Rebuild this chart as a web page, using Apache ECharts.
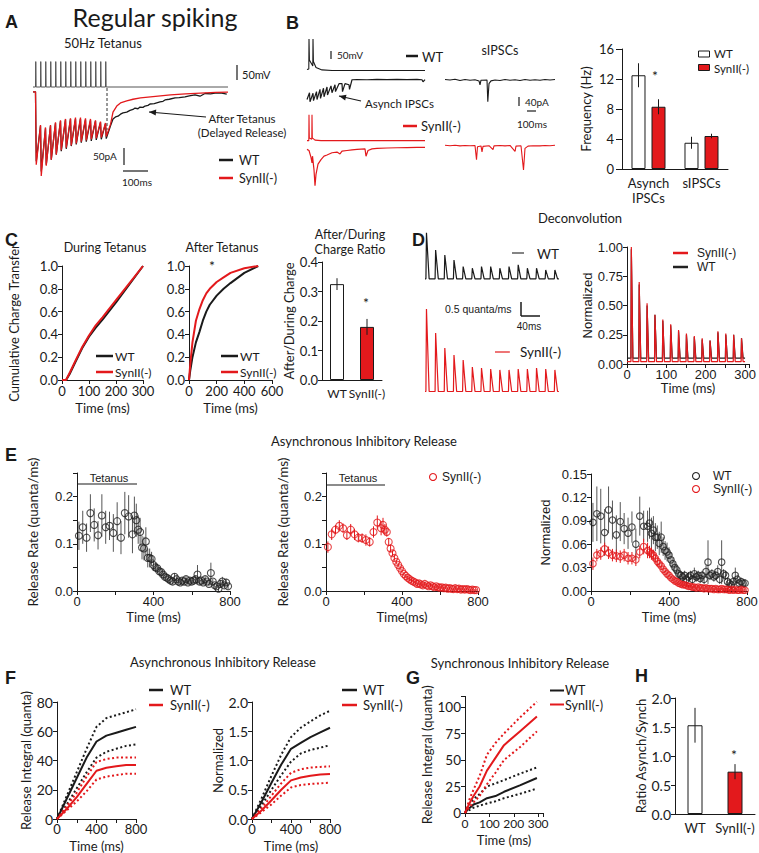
<!DOCTYPE html>
<html>
<head>
<meta charset="utf-8">
<script src="https://cdn.jsdelivr.net/npm/echarts@6/dist/echarts.min.js"></script>
<style>
  html, body { margin: 0; padding: 0; background: #fff; }
  #chart { width: 759px; height: 853px; }
</style>
</head>
<body>
<div id="chart"></div>
<script>
const RED = "#e3191c";
const INK = "#1a1a1a";
const CAL = 'Lato, "Open Sans", sans-serif';
const ARI = '"Liberation Sans", Arial, sans-serif';

// ---------- A: 50 Hz tetanus, example traces ----------
const tetStimMs = [0, 20, 40, 60, 80, 100, 120, 140, 160, 180, 200, 220, 240, 260, 280];
const aRestMv = -65;
const aSpikeMv = 20;
const aWtTroughPa = [-205, -235, -215, -200, -185, -175, -168, -160, -155, -150, -147, -145, -142, -140, -138];
const aWtPrePa = [-100, -108, -100, -92, -86, -82, -80, -80, -80, -82, -84, -86, -90, -94, -100];
const aKoTroughPa = [-215, -248, -218, -200, -185, -172, -165, -158, -152, -147, -143, -140, -137, -135, -132];
const aKoPrePa = [-98, -105, -98, -90, -84, -80, -78, -76, -76, -78, -80, -84, -88, -92, -96];
const aWtAfterMs = [310, 320, 330, 340, 350, 365, 378, 390, 398, 410, 418, 430, 438, 450, 458, 475, 498, 510, 518, 535, 558, 575, 598, 615, 638, 658, 678, 700, 718, 740, 765];
const aWtAfterPa = [-80, -74, -72, -66, -62, -60, -55, -52, -48, -50, -45, -46, -42, -40, -36, -35, -30, -28, -24, -22, -18, -17, -15, -12, -9, -13, -5, -6, -4, -3, -7];
const aKoAfterMs = [310, 325, 340, 365, 390, 420, 460, 500, 540, 600, 660, 720, 770];
const aKoAfterPa = [-60, -42, -33, -27, -22, -18, -15, -12, -9, -6, -4, -2, -1];

// ---------- B: example traces [ms, value] ----------
const bWtVm = [[0, -62], [18, -60], [20, 40], [24, -30], [58, -50], [60, 40], [64, -35], [90, -55], [150, -63], [250, -65], [1180, -65]];
const bWtIpsc = [[0, -90], [25, -60], [30, -100], [60, -62], [65, -95], [95, -55], [100, -90], [130, -45], [135, -85], [165, -40], [170, -78], [200, -35], [205, -70], [240, -30], [250, -60], [280, -25], [285, -55], [320, -20], [350, -20], [355, -55], [380, -20], [420, -25], [425, -45], [450, -3], [500, -2], [600, -3], [700, -1], [800, -2], [900, -1], [1000, -2], [1100, -1], [1150, -3], [1160, -12], [1180, -2]];
const bWtSpont = [[0, -2], [50, -4], [100, -1], [150, -6], [200, -2], [250, -5], [300, -3], [340, -8], [350, -25], [360, -5], [420, -4], [428, -100], [440, -20], [460, -8], [500, -4], [550, -6], [600, -2], [650, -5], [700, -3], [750, -6], [800, -2], [850, -5], [900, -3], [950, -5], [1000, -2], [1050, -4], [1100, -2]];
const bKoVm = [[0, -65], [18, -65], [20, 30], [23, -55], [48, -60], [50, 30], [53, -55], [80, -63], [140, -65], [1180, -65]];
const bKoIpsc = [[0, -10], [20, -15], [40, -45], [50, -70], [55, -40], [70, -100], [80, -170], [90, -120], [110, -75], [140, -55], [170, -40], [200, -35], [250, -25], [300, -22], [330, -30], [350, -18], [400, -15], [450, -12], [500, -10], [580, -8], [590, -40], [610, -15], [650, -8], [700, -6], [800, -4], [900, -3], [1000, -2], [1100, -1], [1180, -1]];
const bKoSpont = [[0, -1], [50, -3], [100, -1], [150, -4], [200, -2], [250, -3], [300, -2], [315, -65], [325, -8], [360, -4], [370, -30], [380, -6], [440, -3], [480, -20], [490, -4], [550, -2], [600, -4], [650, -2], [700, -28], [710, -5], [760, -3], [785, -110], [800, -15], [830, -5], [880, -3], [950, -4], [1000, -2], [1050, -3], [1100, -1]];

// B: frequency bars
const freqCats = ["Asynch\nIPSCs", "sIPSCs"];
const freqWt = [12.5, 3.5];
const freqWtErr = [1.6, 0.8];
const freqKo = [8.3, 4.4];
const freqKoErr = [1.0, 0.3];

// ---------- C ----------
const cDuringMs = [0, 15, 30, 50, 75, 100, 125, 150, 200, 250, 300];
const cDuringWt = [0, 0, 0.06, 0.16, 0.28, 0.38, 0.46, 0.53, 0.68, 0.84, 1.0];
const cDuringKo = [0, 0, 0.07, 0.17, 0.29, 0.39, 0.48, 0.55, 0.70, 0.85, 1.0];
const cAfterMs = [0, 10, 25, 50, 75, 100, 125, 150, 200, 250, 300, 400, 500];
const cAfterWt = [0, 0.09, 0.20, 0.33, 0.42, 0.52, 0.60, 0.66, 0.74, 0.80, 0.85, 0.94, 1.0];
const cAfterKo = [0, 0.15, 0.33, 0.52, 0.62, 0.70, 0.76, 0.80, 0.86, 0.90, 0.94, 0.98, 1.0];
const ratioCats = ["WT", "SynII(-)"];
const ratioVals = [0.325, 0.18];
const ratioErr = [0.02, 0.027];

// ---------- D: deconvolution ----------
const dPulseMs = [2, 22, 42, 62, 82, 102, 122, 142, 162, 182, 202, 222, 242, 262, 282];
const dWtPeak = [1.97, 1.25, 1.04, 0.83, 0.56, 0.49, 0.56, 0.56, 0.49, 0.56, 0.63, 0.49, 0.49, 0.42, 0.42];
const dKoPeak = [3.46, 2.46, 1.83, 1.54, 1.33, 1.04, 1.0, 0.96, 0.92, 0.92, 0.96, 0.96, 1.0, 0.96, 0.92];
const dWtBase = 0.05;
const dKoBase = 0.02;
const dNormMs = [10, 30, 50, 70, 90, 110, 130, 150, 170, 190, 210, 230, 250, 270, 290];
const dNormKo = [1.0, 0.70, 0.52, 0.42, 0.38, 0.34, 0.29, 0.26, 0.24, 0.22, 0.20, 0.28, 0.26, 0.25, 0.22];
const dNormWt = [0.98, 0.68, 0.50, 0.42, 0.37, 0.33, 0.28, 0.25, 0.23, 0.21, 0.20, 0.27, 0.25, 0.25, 0.22];
const dNormWtBase = 0.05;
const dNormKoBase = 0.02;

// ---------- E: asynchronous release rate ----------
const eTimesMs = [10, 30, 50, 70, 90, 110, 130, 150, 170, 190, 210, 230, 250, 270, 290,
  300, 310, 320, 330, 340, 350, 360, 370, 380, 390, 400, 410, 420, 430, 440, 450, 460, 470, 480, 490,
  500, 510, 520, 530, 540, 550, 560, 570, 580, 590, 600, 610, 620, 630, 640, 650, 660, 670, 680, 690,
  700, 710, 720, 730, 740, 750, 760, 770, 780, 790];
const eWt = [0.117, 0.135, 0.113, 0.165, 0.140, 0.118, 0.160, 0.135, 0.138, 0.123, 0.148, 0.113, 0.165, 0.158, 0.120,
  0.160, 0.150, 0.130, 0.125, 0.092, 0.090, 0.105, 0.070, 0.070, 0.068,
  0.055, 0.050, 0.048, 0.042, 0.040, 0.035, 0.030, 0.028, 0.025, 0.022,
  0.020, 0.030, 0.025, 0.020, 0.018, 0.022, 0.020, 0.025, 0.018, 0.022,
  0.020, 0.022, 0.025, 0.035, 0.020, 0.022, 0.018, 0.025, 0.020, 0.015,
  0.038, 0.020, 0.012, 0.010, 0.005, 0.015, 0.020, 0.012, 0.018, 0.010];
const eWtErr = [0.030, 0.035, 0.030, 0.040, 0.035, 0.030, 0.045, 0.035, 0.030, 0.040, 0.040, 0.035, 0.045, 0.045, 0.040,
  0.040, 0.035, 0.030, 0.030, 0.025, 0.025, 0.030, 0.020, 0.020, 0.015,
  0.012, 0.010, 0.010, 0.008, 0.008, 0.008, 0.006, 0.006, 0.006, 0.006,
  0.006, 0.008, 0.006, 0.006, 0.005, 0.006, 0.005, 0.006, 0.005, 0.006,
  0.005, 0.006, 0.006, 0.020, 0.006, 0.006, 0.005, 0.006, 0.005, 0.005,
  0.022, 0.006, 0.005, 0.005, 0.005, 0.008, 0.010, 0.006, 0.008, 0.006];
const eKo = [0.093, 0.120, 0.130, 0.138, 0.133, 0.118, 0.130, 0.120, 0.113, 0.112, 0.108, 0.104, 0.125, 0.145, 0.133,
  0.140, 0.130, 0.125, 0.104, 0.090, 0.080, 0.070, 0.062, 0.055, 0.048,
  0.042, 0.036, 0.032, 0.028, 0.025, 0.022, 0.020, 0.018, 0.015, 0.016,
  0.014, 0.012, 0.015, 0.012, 0.010, 0.012, 0.010, 0.008, 0.010, 0.008,
  0.007, 0.008, 0.006, 0.007, 0.005, 0.006, 0.005, 0.004, 0.006, 0.004,
  0.005, 0.003, 0.004, 0.003, 0.004, 0.003, 0.002, 0.003, 0.002, 0.002];
const eKoErr = [0.012, 0.012, 0.010, 0.012, 0.010, 0.010, 0.012, 0.012, 0.010, 0.010, 0.012, 0.010, 0.012, 0.015, 0.015,
  0.015, 0.012, 0.010, 0.008, 0.008, 0.006, 0.006, 0.005, 0.005, 0.005,
  0.005, 0.004, 0.004, 0.004, 0.004, 0.004, 0.004, 0.004, 0.003, 0.004,
  0.003, 0.003, 0.004, 0.003, 0.003, 0.003, 0.003, 0.003, 0.003, 0.003,
  0.003, 0.003, 0.003, 0.003, 0.002, 0.003, 0.002, 0.002, 0.003, 0.002,
  0.002, 0.002, 0.002, 0.002, 0.002, 0.002, 0.002, 0.002, 0.002, 0.002];
const eNormWt = [0.088, 0.099, 0.096, 0.075, 0.104, 0.091, 0.072, 0.089, 0.080, 0.074, 0.082, 0.060, 0.096, 0.083, 0.083,
  0.087, 0.074, 0.078, 0.069, 0.069, 0.061, 0.069, 0.057, 0.052, 0.050,
  0.046, 0.040, 0.035, 0.030, 0.027, 0.022, 0.020, 0.018, 0.020, 0.015,
  0.018, 0.020, 0.015, 0.022, 0.018, 0.020, 0.016, 0.020, 0.015, 0.025,
  0.037, 0.020, 0.022, 0.018, 0.020, 0.025, 0.015, 0.037, 0.022, 0.020,
  0.012, 0.010, 0.008, 0.012, 0.020, 0.015, 0.010, 0.012, 0.010, 0.010];
const eNormWtErr = [0.025, 0.035, 0.035, 0.030, 0.030, 0.025, 0.025, 0.025, 0.020, 0.020, 0.020, 0.020, 0.025, 0.020, 0.020,
  0.020, 0.020, 0.018, 0.018, 0.015, 0.015, 0.020, 0.012, 0.012, 0.012,
  0.010, 0.010, 0.008, 0.008, 0.007, 0.007, 0.006, 0.006, 0.006, 0.006,
  0.006, 0.006, 0.006, 0.008, 0.006, 0.006, 0.006, 0.006, 0.006, 0.008,
  0.028, 0.006, 0.006, 0.006, 0.006, 0.008, 0.006, 0.028, 0.006, 0.006,
  0.005, 0.005, 0.005, 0.005, 0.010, 0.006, 0.005, 0.005, 0.005, 0.005];
const eNormKo = [0.035, 0.046, 0.048, 0.054, 0.049, 0.046, 0.045, 0.044, 0.046, 0.042, 0.042, 0.040, 0.050, 0.057, 0.052,
  0.050, 0.048, 0.046, 0.042, 0.038, 0.035, 0.032, 0.028, 0.025, 0.022,
  0.020, 0.017, 0.015, 0.013, 0.012, 0.010, 0.009, 0.008, 0.008, 0.007,
  0.006, 0.006, 0.005, 0.005, 0.004, 0.005, 0.004, 0.004, 0.003, 0.004,
  0.003, 0.003, 0.003, 0.002, 0.003, 0.002, 0.002, 0.003, 0.002, 0.002,
  0.002, 0.001, 0.002, 0.001, 0.002, 0.001, 0.001, 0.002, 0.001, 0.001];
const eNormKoErr = [0.008, 0.008, 0.008, 0.008, 0.008, 0.008, 0.008, 0.008, 0.008, 0.008, 0.008, 0.008, 0.008, 0.010, 0.010,
  0.008, 0.008, 0.007, 0.006, 0.006, 0.005, 0.005, 0.004, 0.004, 0.004,
  0.003, 0.003, 0.003, 0.003, 0.003, 0.003, 0.003, 0.003, 0.002, 0.002,
  0.002, 0.002, 0.002, 0.002, 0.002, 0.002, 0.002, 0.002, 0.002, 0.002,
  0.002, 0.002, 0.002, 0.002, 0.002, 0.002, 0.002, 0.002, 0.002, 0.002,
  0.002, 0.002, 0.002, 0.002, 0.002, 0.002, 0.002, 0.002, 0.002, 0.002];

// ---------- F: release integrals (mean, upper, lower) ----------
const fMs = [0, 100, 200, 300, 400, 500, 600, 700, 800];
const fWt = [0, 14, 28, 42, 53, 57, 59, 61, 63];
const fWtHi = [0, 16, 32, 48, 63, 69, 71, 73, 75];
const fWtLo = [0, 10, 21, 32, 42, 46, 48, 50, 51];
const fKo = [0, 7, 15, 24, 33, 35, 36, 37, 37];
const fKoHi = [0, 9, 18, 29, 39, 41, 42, 42, 42];
const fKoLo = [0, 6, 12, 19, 27, 29, 30, 31, 31];
const fNWt = [0, 0.30, 0.62, 0.93, 1.20, 1.30, 1.40, 1.48, 1.56];
const fNWtHi = [0, 0.36, 0.74, 1.10, 1.40, 1.56, 1.67, 1.77, 1.85];
const fNWtLo = [0, 0.24, 0.50, 0.75, 0.98, 1.12, 1.18, 1.22, 1.26];
const fNKo = [0, 0.15, 0.32, 0.50, 0.66, 0.71, 0.74, 0.76, 0.77];
const fNKoHi = [0, 0.19, 0.40, 0.61, 0.79, 0.85, 0.88, 0.89, 0.90];
const fNKoLo = [0, 0.12, 0.25, 0.40, 0.54, 0.58, 0.60, 0.61, 0.62];

// ---------- G: synchronous release ----------
const gMs = [0, 10, 20, 35, 60, 90, 125, 160, 225, 295];
const gWt = [0, 3, 5, 8, 10, 14, 16, 20, 26, 33];
const gWtHi = [0, 5, 9, 13, 18, 25, 28, 31, 37, 43];
const gWtLo = [0, 2, 3, 5, 7, 9, 11, 14, 18, 23];
const gKo = [0, 5, 10, 16, 25, 40, 52, 64, 77, 91];
const gKoHi = [0, 7, 14, 22, 35, 55, 66, 75, 90, 105];
const gKoLo = [0, 3, 6, 10, 16, 27, 38, 50, 62, 77];

// ---------- H ----------
const hCats = ["WT", "SynII(-)"];
const hVals = [1.53, 0.73];
const hErr = [0.30, 0.13];

// ================= helpers =================
const grids = [], xAxes = [], yAxes = [], series = [], gfx = [];

function panel(box, xa, ya) {
  const i = grids.length;
  grids.push({ left: box[0], top: box[1], width: box[2], height: box[3], outerBoundsMode: "none", containLabel: false });
  xAxes.push(Object.assign({ gridIndex: i }, xa));
  yAxes.push(Object.assign({ gridIndex: i }, ya));
  return i;
}

function hidden(min, max) {
  return { type: "value", min: min, max: max, show: false };
}

function valueAxis(min, max, interval, o) {
  o = o || {};
  const font = o.font || CAL;
  return {
    type: "value", min: min, max: max, interval: interval,
    name: o.name || "", nameLocation: "middle", nameGap: o.gap || 20,
    nameTextStyle: { color: INK, fontSize: o.nameSize || 13, fontFamily: o.nameFont || CAL },
    axisLine: { show: true, onZero: false, lineStyle: { color: INK, width: 1 } },
    axisTick: { show: true, length: o.tick || 4, lineStyle: { color: INK, width: 1 } },
    splitLine: { show: false },
    axisLabel: { color: INK, fontSize: o.size || 13, fontFamily: font, margin: o.margin || 4, formatter: o.fmt }
  };
}

function catAxis(data, o) {
  o = o || {};
  return {
    type: "category", data: data,
    axisLine: { show: true, lineStyle: { color: INK, width: 1 } },
    axisTick: { show: false },
    axisLabel: { color: INK, fontSize: o.size || 13, fontFamily: CAL, margin: o.margin || 6, interval: 0, lineHeight: 15 }
  };
}

function line(gi, data, color, width, dash) {
  series.push({
    type: "line", xAxisIndex: gi, yAxisIndex: gi, data: data,
    symbol: "none", showSymbol: false, silent: true, animation: false,
    lineStyle: { color: color, width: width, type: dash || "solid" }
  });
}

function pairs(xs, ys) {
  return xs.map((x, i) => [x, ys[i]]);
}

function errBars(gi, data, color, dx) {
  series.push({
    type: "custom", xAxisIndex: gi, yAxisIndex: gi, data: data, z: 5, silent: true,
    renderItem: function (params, api) {
      const hi = api.coord([api.value(0), api.value(1) + api.value(2)]);
      const lo = api.coord([api.value(0), api.value(1) - api.value(2)]);
      return { type: "line", shape: { x1: hi[0] + dx, y1: hi[1], x2: lo[0] + dx, y2: lo[1] }, style: { stroke: color, lineWidth: 1 } };
    }
  });
}

function scatter(gi, xs, ys, color, size) {
  series.push({
    type: "scatter", xAxisIndex: gi, yAxisIndex: gi, data: pairs(xs, ys), z: 6, silent: true,
    symbol: "circle", symbolSize: size,
    itemStyle: { color: "rgba(255,255,255,0)", borderColor: color, borderWidth: 1.1 }
  });
}

function txt(x, y, s, size, o) {
  gfx.push({
    type: "text", silent: true,
    style: Object.assign({
      text: s, x: x, y: y, fill: INK, fontSize: size, fontFamily: CAL,
      textAlign: "left", align: "left", textVerticalAlign: "middle", verticalAlign: "middle"
    }, o || {})
  });
}
function ctxt(x, y, s, size, o) {
  txt(x, y, s, size, Object.assign({ textAlign: "center", align: "center" }, o || {}));
}
function letter(x, y, s) {
  txt(x, y, s, 18, { fontFamily: ARI, fontWeight: "bold" });
}
function seg(x1, y1, x2, y2, color, w, dash) {
  gfx.push({ type: "line", silent: true, shape: { x1: x1, y1: y1, x2: x2, y2: y2 }, style: { stroke: color || INK, lineWidth: w || 1, lineDash: dash || null } });
}
function box(x, y, w, h, fill) {
  gfx.push({ type: "rect", silent: true, shape: { x: x, y: y, width: w, height: h }, style: { fill: fill, stroke: INK, lineWidth: 1 } });
}
function ring(cx, cy, r, color) {
  gfx.push({ type: "circle", silent: true, shape: { cx: cx, cy: cy, r: r }, style: { fill: "none", stroke: color, lineWidth: 1.1 } });
}
function arrow(x1, y1, x2, y2) {
  seg(x1, y1, x2, y2, INK, 1.2);
  const a = Math.atan2(y2 - y1, x2 - x1), L = 7, W = 3;
  const bx = x2 - L * Math.cos(a), by = y2 - L * Math.sin(a);
  gfx.push({
    type: "polygon", silent: true,
    shape: { points: [[x2, y2], [bx - W * Math.sin(a), by + W * Math.cos(a)], [bx + W * Math.sin(a), by - W * Math.cos(a)]] },
    style: { fill: INK }
  });
}

// ================= A =================
const gAV = panel([33, 55, 195, 35], hidden(-10, 770), hidden(-75, 42));
const gAI = panel([33, 85, 195, 95], hidden(-10, 770), hidden(-260, 20));
const aVm = [[-10, aRestMv]];
tetStimMs.forEach(t => aVm.push([t, aRestMv], [t + 1, aSpikeMv], [t + 2.5, aRestMv]));
aVm.push([770, aRestMv]);
line(gAV, aVm, "#555", 1);

function tetanusCurrent(trough, pre, afterMs, afterPa) {
  const pts = [[-10, 0], [0, 0]];
  tetStimMs.forEach((t, i) => pts.push([t + 3, trough[i]], [t + 20, pre[i]]));
  afterMs.forEach((t, i) => pts.push([t, afterPa[i]]));
  return pts;
}
line(gAI, tetanusCurrent(aWtTroughPa, aWtPrePa, aWtAfterMs, aWtAfterPa), INK, 1.3);
line(gAI, tetanusCurrent(aKoTroughPa, aKoPrePa, aKoAfterMs, aKoAfterPa), RED, 1.3);

ctxt(155, 17, "Regular spiking", 25);
letter(5, 22, "A");
txt(64, 43, "50Hz Tetanus", 13);
seg(237, 65, 237, 80, INK, 1.2);
txt(242, 74, "50mV", 11);
seg(107, 88, 107, 130, "#333", 1, [3, 2]);
arrow(206, 117, 149, 112);
ctxt(242, 118, "After Tetanus", 11.5);
ctxt(242, 132, "(Delayed Release)", 11.5);
seg(124, 148, 124, 165, INK, 1.2);
txt(93, 156, "50pA", 10);
seg(123, 171, 148, 171, INK, 1.2);
ctxt(137, 182, "100ms", 10);
seg(219, 160, 233, 160, INK, 2.5);
txt(239, 160, "WT", 12.5);
seg(219, 178, 233, 178, RED, 2.5);
txt(239, 178, "SynII(-)", 12.5);

// ================= B =================
const gBWv = panel([307, 36, 118, 36], hidden(0, 1180), hidden(-70, 50));
const gBWi = panel([307, 75, 118, 35], hidden(0, 1180), hidden(-136, 18));
const gBWs = panel([445, 75, 110, 35], hidden(0, 1100), hidden(-136, 18));
const gBKv = panel([307, 112, 118, 30], hidden(0, 1180), hidden(-70, 40));
const gBKi = panel([307, 143, 118, 45], hidden(0, 1180), hidden(-180, 18));
const gBKs = panel([445, 140, 110, 35], hidden(0, 1100), hidden(-132, 22));
line(gBWv, bWtVm, INK, 1.1);
line(gBWi, bWtIpsc, INK, 1.2);
line(gBWs, bWtSpont, INK, 1.1);
line(gBKv, bKoVm, RED, 1.1);
line(gBKi, bKoIpsc, RED, 1.2);
line(gBKs, bKoSpont, RED, 1.1);

const gBF = panel([622, 49, 106, 120], catAxis(freqCats), valueAxis(0, 16, 4, { name: "Frequency (Hz)", gap: 30, tick: 6, margin: 8 }));
series.push({ type: "bar", xAxisIndex: gBF, yAxisIndex: gBF, data: freqWt, barWidth: 14, barGap: "43%", silent: true, itemStyle: { color: "#fff", borderColor: INK, borderWidth: 1 } });
series.push({ type: "bar", xAxisIndex: gBF, yAxisIndex: gBF, data: freqKo, barWidth: 14, barGap: "43%", silent: true, itemStyle: { color: RED, borderColor: INK, borderWidth: 1 } });
errBars(gBF, freqWt.map((v, i) => [i, v, freqWtErr[i]]), INK, -10);
errBars(gBF, freqKo.map((v, i) => [i, v, freqKoErr[i]]), INK, 10);

letter(286, 23, "B");
seg(331, 51, 331, 59, INK, 1.2);
txt(337, 55, "50mV", 10);
seg(406, 56, 418, 56, INK, 2.5);
txt(422, 57, "WT", 13);
ctxt(500, 50, "sIPSCs", 12.5);
arrow(361, 101, 339, 96);
txt(365, 103, "Asynch IPSCs", 11.5);
seg(519, 97, 519, 106, INK, 1.2);
txt(525, 102, "40pA", 10);
seg(527, 111, 536, 111, INK, 1.2);
ctxt(532, 124, "100ms", 10);
seg(403, 126, 417, 126, RED, 2.5);
txt(421, 126, "SynII(-)", 13);
box(698.5, 51, 11, 6, "#fff");
txt(714, 53, "WT", 11.5);
box(698.5, 64.5, 11, 6, RED);
txt(714, 68, "SynII(-)", 11.5);
ctxt(655, 75, "*", 14);

// ================= C =================
const gC1 = panel([62, 266, 81, 114],
  valueAxis(0, 300, 100, { name: "Time (ms)", gap: 21 }),
  valueAxis(0, 1, 0.2, { name: "Cumulative Charge Transfer", gap: 42, fmt: v => v.toFixed(1) }));
line(gC1, pairs(cDuringMs, cDuringWt), INK, 2);
line(gC1, pairs(cDuringMs, cDuringKo), RED, 2);
const gC2 = panel([189, 266, 83, 114],
  valueAxis(0, 600, 200, { name: "Time (ms)", gap: 21 }),
  valueAxis(0, 1, 0.2, { fmt: v => v.toFixed(1) }));
line(gC2, pairs(cAfterMs, cAfterWt), INK, 2);
line(gC2, pairs(cAfterMs, cAfterKo), RED, 2);
const gC3 = panel([322, 262, 60, 118], catAxis(ratioCats, { size: 12 }),
  valueAxis(0, 0.4, 0.1, { name: "After/During Charge", gap: 22, fmt: v => v.toFixed(1) }));
series.push({
  type: "bar", xAxisIndex: gC3, yAxisIndex: gC3, barWidth: 14, silent: true,
  data: ratioVals.map((v, i) => ({ value: v, itemStyle: { color: i === 0 ? "#fff" : RED, borderColor: INK, borderWidth: 1 } }))
});
errBars(gC3, ratioVals.map((v, i) => [i, v, ratioErr[i]]), INK, 0);

letter(5, 240, "C");
ctxt(105, 247, "During Tetanus", 12.5);
ctxt(222, 247, "After Tetanus", 12.5);
ctxt(350, 234, "After/During", 12.5);
ctxt(350, 249, "Charge Ratio", 12.5);
ctxt(212, 265, "*", 14);
ctxt(366, 302, "*", 14);
seg(96, 356, 113, 356, INK, 2.5);
txt(115, 356, "WT", 12);
seg(96, 372, 113, 372, RED, 2.5);
txt(115, 372, "SynII(-)", 12);
seg(221, 356, 238, 356, INK, 2.5);
txt(240, 356, "WT", 12);
seg(221, 372, 238, 372, RED, 2.5);
txt(240, 372, "SynII(-)", 12);

// ================= D =================
function pulseTrace(times, peaks, base, rise, fall) {
  const pts = [[0, base]];
  times.forEach((t, i) => pts.push([t, base], [t + rise, peaks[i]], [t + fall, base]));
  pts.push([times[times.length - 1] + 10, base]);
  return pts;
}
const gDW = panel([425, 229.6, 133, 52.8], hidden(0, 290), hidden(-0.1, 2.1));
const gDK = panel([425, 305.6, 133, 88.8], hidden(0, 290), hidden(-0.1, 3.6));
line(gDW, pulseTrace(dPulseMs, dWtPeak, dWtBase, 1.2, 7), INK, 1.2);
line(gDK, pulseTrace(dPulseMs, dKoPeak, dKoBase, 1.2, 7), RED, 1.2);
const gDN = panel([627, 247, 122, 117],
  valueAxis(0, 310, 50, { name: "Time (ms)", gap: 17, font: ARI, nameFont: CAL, fmt: v => (v % 100 === 0 ? String(v) : "") }),
  valueAxis(0, 1, 0.25, { name: "Normalized", gap: 31, font: ARI, nameFont: ARI, fmt: v => v.toFixed(2) }));
line(gDN, pulseTrace(dNormMs, dNormWt, dNormWtBase, 1, 5), INK, 1.2);
line(gDN, pulseTrace(dNormMs, dNormKo, dNormKoBase, 1, 5), RED, 1.2);

ctxt(580, 218, "Deconvolution", 13);
letter(412, 240, "D");
seg(512, 253, 524, 253, "#333", 1.2);
txt(537, 254, "WT", 13.5);
txt(445, 309, "0.5 quanta/ms", 10.5, { fontFamily: ARI });
seg(521, 302, 521, 316, INK, 1.5);
seg(521, 316, 540, 316, INK, 1.5);
ctxt(529, 326, "40ms", 10, { fontFamily: ARI });
seg(495, 352, 510, 352, RED, 1.2);
txt(520, 352, "SynII(-)", 13.5);
seg(673, 253, 688, 253, RED, 2.5);
txt(697, 253, "SynII(-)", 12, { fontFamily: ARI });
seg(673, 267, 688, 267, "#222", 2.5);
txt(697, 267, "WT", 12, { fontFamily: ARI });

// ================= E =================
const eX = (name) => valueAxis(0, 800, 200, { name: name, gap: 19, font: ARI, fmt: v => (v % 400 === 0 ? String(v) : "") });
const rateFmt = v => { const k = Math.round(v * 100); return (k % 10 === 0 && k <= 20) ? (k / 100).toFixed(1) : ""; };
const gE1 = panel([77, 473, 153, 118], eX("Time (ms)"), valueAxis(0, 0.25, 0.05, { name: "Release Rate (quanta/ms)", gap: 37, font: ARI, nameSize: 13.5, fmt: rateFmt }));
const gE2 = panel([326, 473, 152, 118], eX("Time(ms)"), valueAxis(0, 0.25, 0.05, { name: "Release Rate (quanta/ms)", gap: 36, font: ARI, nameSize: 13.5, fmt: rateFmt }));
const gE3 = panel([591, 474, 156, 117], eX("Time (ms)"), valueAxis(0, 0.15, 0.03, { name: "Normalized", gap: 39, font: ARI, nameFont: ARI, fmt: v => v.toFixed(2) }));
errBars(gE1, eTimesMs.map((t, i) => [t, eWt[i], eWtErr[i]]), "#555", 0);
scatter(gE1, eTimesMs, eWt, "#222", 7);
errBars(gE2, eTimesMs.map((t, i) => [t, eKo[i], eKoErr[i]]), RED, 0);
scatter(gE2, eTimesMs, eKo, RED, 7);
errBars(gE3, eTimesMs.map((t, i) => [t, eNormWt[i], eNormWtErr[i]]), "#555", 0);
scatter(gE3, eTimesMs, eNormWt, "#222", 6.5);
errBars(gE3, eTimesMs.map((t, i) => [t, eNormKo[i], eNormKoErr[i]]), RED, 0);
scatter(gE3, eTimesMs, eNormKo, RED, 6.5);

ctxt(364, 441, "Asynchronous Inhibitory Release", 13);
letter(5, 455, "E");
seg(77, 484, 137, 484, INK, 1.2);
ctxt(109, 478, "Tetanus", 11, { fontFamily: ARI });
seg(326, 485, 385, 485, INK, 1.2);
ctxt(358, 478, "Tetanus", 11, { fontFamily: ARI });
ring(433, 477, 3.5, RED);
txt(442, 477, "SynII(-)", 12, { fontFamily: ARI });
ring(696, 476, 3.5, "#222");
txt(713, 476, "WT", 12, { fontFamily: ARI });
ring(696, 489, 3.5, RED);
txt(713, 489, "SynII(-)", 12, { fontFamily: ARI });

// ================= F =================
const fX = () => valueAxis(0, 800, 200, { name: "Time (ms)", gap: 20, size: 13, margin: 3, fmt: v => (v % 400 === 0 ? String(v) : "") });
const gF1 = panel([57, 702, 79, 117], fX(), valueAxis(0, 80, 20, { name: "Release Integral (quanta)", gap: 22, size: 14 }));
const gF2 = panel([252, 702, 78, 117], fX(), valueAxis(0, 2, 0.5, { name: "Normalized", gap: 23, size: 14, fmt: v => v.toFixed(1) }));
const DOT = [2, 2.5];
line(gF1, pairs(fMs, fWtHi), INK, 2, DOT);
line(gF1, pairs(fMs, fWtLo), INK, 2, DOT);
line(gF1, pairs(fMs, fWt), INK, 2);
line(gF1, pairs(fMs, fKoHi), RED, 2, DOT);
line(gF1, pairs(fMs, fKoLo), RED, 2, DOT);
line(gF1, pairs(fMs, fKo), RED, 2);
line(gF2, pairs(fMs, fNWtHi), INK, 2, DOT);
line(gF2, pairs(fMs, fNWtLo), INK, 2, DOT);
line(gF2, pairs(fMs, fNWt), INK, 2);
line(gF2, pairs(fMs, fNKoHi), RED, 2, DOT);
line(gF2, pairs(fMs, fNKoLo), RED, 2, DOT);
line(gF2, pairs(fMs, fNKo), RED, 2);

ctxt(223, 662, "Asynchronous Inhibitory Release", 13);
letter(5, 678, "F");
seg(149, 690, 163, 690, INK, 2.5);
txt(170, 690, "WT", 13);
seg(149, 705, 163, 705, RED, 2.5);
txt(170, 705, "SynII(-)", 13);
seg(342, 690, 357, 690, INK, 2.5);
txt(363, 690, "WT", 13);
seg(342, 705, 357, 705, RED, 2.5);
txt(363, 705, "SynII(-)", 13);

// ================= G =================
const gG = panel([465, 696.4, 78, 116.6],
  valueAxis(0, 320, 100, { name: "Time (ms)", gap: 20, size: 12, nameSize: 13, fmt: v => (v <= 300 ? String(v) : "") }),
  valueAxis(0, 110, 25, { name: "Release Integral (quanta)", gap: 28, size: 13.5, fmt: v => (v <= 100 ? String(v) : "") }));
line(gG, pairs(gMs, gWtHi), INK, 2, DOT);
line(gG, pairs(gMs, gWtLo), INK, 2, DOT);
line(gG, pairs(gMs, gWt), INK, 2);
line(gG, pairs(gMs, gKoHi), RED, 2, DOT);
line(gG, pairs(gMs, gKoLo), RED, 2, DOT);
line(gG, pairs(gMs, gKo), RED, 2);

ctxt(520, 663, "Synchronous Inhibitory Release", 13);
letter(406, 678, "G");
seg(550, 690.5, 564, 690.5, INK, 2);
txt(565, 690, "WT", 12.5);
seg(550, 704.5, 564, 704.5, RED, 2);
txt(565, 705, "SynII(-)", 12.5);

// ================= H =================
const gH = panel([675, 698, 80, 116], catAxis(hCats, { size: 13, margin: 6 }),
  valueAxis(0, 2, 0.5, { name: "Ratio Asynch/Synch", gap: 25, size: 14, fmt: v => v.toFixed(1) }));
series.push({
  type: "bar", xAxisIndex: gH, yAxisIndex: gH, barWidth: 15, silent: true,
  data: hVals.map((v, i) => ({ value: v, itemStyle: { color: i === 0 ? "#fff" : RED, borderColor: INK, borderWidth: 1 } }))
});
errBars(gH, hVals.map((v, i) => [i, v, hErr[i]]), INK, 0);
letter(635, 676, "H");
ctxt(734, 754, "*", 14);

// ================= render =================
const chart = echarts.init(document.getElementById("chart"), null, { renderer: "svg" });
chart.setOption({
  animation: false,
  backgroundColor: "#fff",
  grid: grids,
  xAxis: xAxes,
  yAxis: yAxes,
  series: series,
  graphic: { elements: gfx }
});
window.addEventListener("resize", () => chart.resize());
</script>
</body>
</html>
